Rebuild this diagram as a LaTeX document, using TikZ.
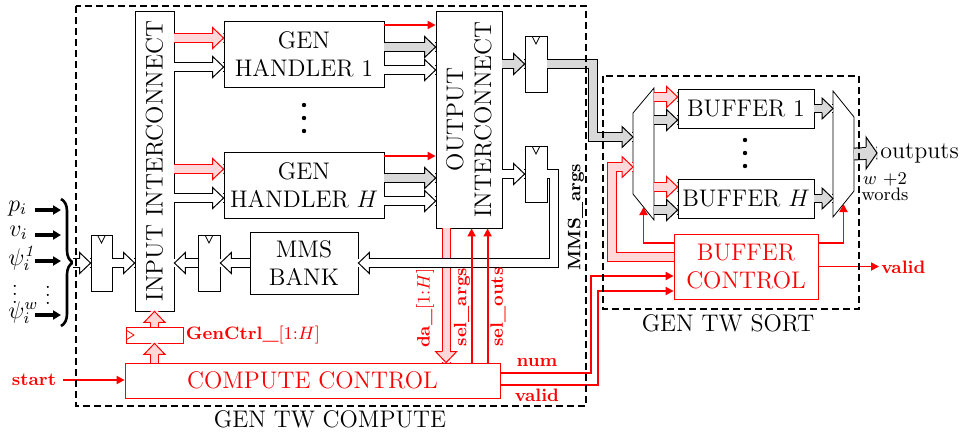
\documentclass[tikz,border=0pt]{standalone}
\usetikzlibrary{arrows.meta,decorations.pathreplacing}

\tikzset{
  blk/.style={draw, inner sep=0pt, align=center, font=\large},
  ctl/.style={blk, draw=red, text=red},
  regb/.style={draw, inner sep=0pt, minimum width=11pt, minimum height=28pt,
    path picture={\draw ([xshift=-2pt]path picture bounding box.north) -- ++(2pt,-4pt) -- ++(2pt,4pt);}},
  sig/.style={draw=red, line width=0.9pt, -{Triangle[length=4pt,width=4pt]}},
  inarr/.style={line width=2pt, -{Triangle[length=4pt,width=4.5pt]}},
  lbl/.style={font=\small\bfseries, text=red},
  grp/.style={dash pattern=on 3.5pt off 2pt, line width=0.6pt},
  busw/.style={draw=black, line width=0.5pt, double=white, double distance=3.6pt},
  busg/.style={busw, double=gray!30},
  busp/.style={busw, draw=red, double=red!15},
  bigbus/.style={busw, double=gray!30, double distance=5.4pt},
  hdw/.style={draw=black, fill=white, line width=0.5pt},
  hdg/.style={hdw, fill=gray!30},
  hdp/.style={hdw, draw=red, fill=red!15},
  pics/hd/.style={code={
    \fill[white] (-11,-4.8) rectangle (-0.8,4.8);
    \path[pic actions] (-11,-4.1) -- (-11,-10.5) -- (0,0) -- (-11,10.5) -- (-11,4.1);}},
  pics/bighd/.style={code={
    \fill[white] (-11,-6.6) rectangle (-0.8,6.6);
    \path[pic actions] (-11,-5.9) -- (-11,-16) -- (0,0) -- (-11,16) -- (-11,5.9);}},
}

\begin{document}
\begin{tikzpicture}[x=0.5pt, y=-0.5pt, line width=0.4pt]
\useasboundingbox (0,0) rectangle (963,435);

% compute blocks
\node[blk, minimum width=19.5pt, minimum height=150pt] (icin) at (154.5,161) {};
\node[rotate=90, font=\large] (icintxt) at (icin) {INPUT INTERCONNECT};
\node[blk, minimum width=80pt, minimum height=33pt] (gh1) at (304,54) {GEN\\HANDLER 1};
\node[blk, minimum width=80pt, minimum height=33pt] (ghH) at (304,185) {GEN\\HANDLER $H$};
\foreach \y in {105,118,131} \fill (304,\y) circle (1.1pt);
\node[blk, minimum width=33pt, minimum height=108.5pt] (icout) at (469,119.5) {};
\node[rotate=90, font=\large, align=center] (icouttxt) at (icout) {OUTPUT\\INTERCONNECT};
\node[regb] (rout1) at (536,64) {};
\node[regb] (rout2) at (536,174) {};
\node[blk, minimum width=54pt, minimum height=31pt] (mms) at (304,263) {MMS\\BANK};
\node[regb] (rmms) at (209,263) {};
\node[regb, minimum width=10.5pt] (rin) at (101.5,263) {};
\node[ctl, minimum width=187.5pt, minimum height=17.5pt] (cc) at (312.5,380.5) {COMPUTE CONTROL};
\node[draw=red, minimum width=28.5pt, minimum height=8pt, inner sep=0pt,
  path picture={\draw[red] ([yshift=2.5pt]path picture bounding box.west) -- ++(4pt,-2.5pt) -- ++(-4pt,-2.5pt);}] (gc) at (154.5,335) {};
\node[font=\small, text=red, anchor=west, inner sep=1pt] (gcl) at (gc.east) {\textbf{GenCtrl\_}[1:$H$]};

% sort blocks
\node[minimum width=10.5pt, minimum height=66pt, inner sep=0pt, outer sep=0pt] (dmx) at (643.5,154) {};
\draw (dmx.north east) -- (dmx.south east) -- ([yshift=13pt]dmx.south west) -- ([yshift=-12.5pt]dmx.north west) -- cycle;
\node[minimum width=10.5pt, minimum height=63pt, inner sep=0pt, outer sep=0pt] (mx) at (843.5,154) {};
\draw (mx.north west) -- ([yshift=-13pt]mx.north east) -- ([yshift=13pt]mx.south east) -- (mx.south west) -- cycle;
\node[blk, minimum width=68pt, minimum height=19.5pt] (buf1) at (746,108.5) {BUFFER 1};
\node[blk, minimum width=68pt, minimum height=19.5pt] (bufH) at (746,198.5) {BUFFER $H$};
\foreach \y in {140,153,166} \fill (745,\y) circle (1.1pt);
\node[ctl, minimum width=72pt, minimum height=32.5pt] (bc) at (746,266.5) {BUFFER\\CONTROL};

% inputs
\node[anchor=base west, font=\large, inner sep=0pt] (pi) at (8,211) {$p_i$};
\node[anchor=base west, font=\large, inner sep=0pt] (vi) at (9,236) {$v_i$};
\node[anchor=base west, font=\large, inner sep=0pt] (psi1) at (8,265) {$\psi_i^{\mathit{1}}$};
\node[anchor=base west, font=\large, inner sep=0pt] (psiw) at (8,318) {$\psi_i^{w}$};
\node[inner sep=0pt] (vd1) at (15,288) {$\vdots$};
\node[inner sep=0pt] (vd2) at (48,289) {$\vdots$};
\coordinate (brtop) at (61,199);
\coordinate (brbot) at (61,326);
\coordinate (brtip) at (73,263);
\foreach \n/\y in {pi/210,vi/235,psi1/261,psiw/315} {
  \coordinate (a-\n) at (35,\y);
  \draw[inarr] (a-\n) -- (a-\n -| brtop);
}
\draw[decorate, decoration={brace, amplitude=6pt}, line width=1.3pt] (brtop) -- (brbot);
\draw[busw] (brtip) -- (rin.west); \pic[hdw] at (rin.west) {hd};
\draw[busw] (rin.east) -- (rin.east -| icin.west); \pic[hdw] at (rin.east -| icin.west) {hd};
\draw[busw] (mms.west) -- (rmms.east); \pic[hdw, rotate=180] at (rmms.east) {hd};
\draw[busw] (rmms.west) -- (rmms.west -| icin.east); \pic[hdw, rotate=180] at (rmms.west -| icin.east) {hd};

% handlers
\foreach \g in {gh1,ghH} {
  \draw[busp] ([yshift=8pt]\g.west -| icin.east) -- ([yshift=8pt]\g.west);
  \pic[hdp] at ([yshift=8pt]\g.west) {hd};
  \draw[busw] ([yshift=-6.5pt]\g.west -| icin.east) -- ([yshift=-6.5pt]\g.west);
  \pic[hdw] at ([yshift=-6.5pt]\g.west) {hd};
  \draw[sig] ([yshift=14.5pt]\g.east) -- ([yshift=14.5pt]\g.east -| icout.west);
  \draw[busg] ([yshift=3.5pt]\g.east) -- ([yshift=3.5pt]\g.east -| icout.west);
  \pic[hdg] at ([yshift=3.5pt]\g.east -| icout.west) {hd};
  \draw[busw] ([yshift=-8pt]\g.east) -- ([yshift=-8pt]\g.east -| icout.west);
  \pic[hdw] at ([yshift=-8pt]\g.east -| icout.west) {hd};
}
\draw[busg] (rout1.west -| icout.east) -- (rout1.west); \pic[hdg] at (rout1.west) {hd};
\draw[busw] (rout2.west -| icout.east) -- (rout2.west); \pic[hdw] at (rout2.west) {hd};

% to the sorter
\coordinate (g1) at (593,137);
\draw[busg] (rout1.east) -| (g1) -- (g1 -| dmx.west); \pic[hdg] at (g1 -| dmx.west) {hd};
\coordinate (p1) at (612,167);
\draw[busp] ([yshift=4.75pt]bc.west) -| (p1) -- (p1 -| dmx.west); \pic[hdp] at (p1 -| dmx.west) {hd};
\foreach \b in {buf1,bufH} {
  \draw[busp] ([yshift=5.75pt]\b.west -| dmx.east) -- ([yshift=5.75pt]\b.west);
  \pic[hdp] at ([yshift=5.75pt]\b.west) {hd};
  \draw[busg] ([yshift=-5.75pt]\b.west -| dmx.east) -- ([yshift=-5.75pt]\b.west);
  \pic[hdg] at ([yshift=-5.75pt]\b.west) {hd};
  \draw[busg] (\b.east) -- (\b.east -| mx.west); \pic[hdg] at (\b.east -| mx.west) {hd};
}
\draw[sig] ([yshift=11.75pt]bc.west) -| ([yshift=6.5pt]dmx.south);
\draw[sig] ([yshift=11.75pt]bc.east) -| ([yshift=6.5pt]mx.south);
\node[font=\large, anchor=west, inner sep=1.5pt] (outp) at (877,153) {outputs};
\draw[bigbus] (mx.east) -- (outp.west); \pic[hdg] at (outp.west) {bighd};
\node[font=\small, align=center, inner sep=0pt] (wds) at (885,187) {$w$ +2\\[-3pt]words};
\node[lbl, anchor=west, inner sep=1pt] (vout) at (879,267) {valid};
\draw[sig] (bc.east) -- (bc.east -| vout.west);

% control
\node[lbl] (st) at (34,380) {start};
\draw[sig] (st.east) -- (st.east -| cc.west);
\draw[busp] (cc.north -| gc.south) -- (gc.south); \pic[hdp, rotate=90] at (gc.south) {hd};
\draw[busp] (gc.north) -- (gc.north |- icin.south); \pic[hdp, rotate=90] at (gc.north |- icin.south) {hd};
\coordinate (da) at ([xshift=5.25pt]icout.south west);
\coordinate (sa) at ([xshift=18pt]icout.south west);
\coordinate (so) at ([xshift=26pt]icout.south west);
\draw[busp] (da) -- (da |- cc.north); \pic[hdp, rotate=-90] at (da |- cc.north) {hd};
\coordinate (m1) at (554,220);
\draw[busw] (rout2.east) -| (m1) |- (mms.east); \pic[hdw, rotate=180] at (mms.east) {hd};
\draw[sig] (sa |- cc.north) -- (sa);
\draw[sig] (so |- cc.north) -- (so);
\node[rotate=90, font=\small, text=red] (lda) at (425,308) {\textbf{da\_}[1:$H$]};
\node[lbl, rotate=90] (lsa) at (462,307) {sel\_args};
\node[lbl, rotate=90] (lso) at (498,307) {sel\_outs};
\node[rotate=90, font=\small\bfseries] (lmms) at (576,217) {MMS\_args};
\coordinate (n1) at (591,320);
\coordinate (v1) at (598,320);
\draw[sig] ([yshift=3.75pt]cc.east) -| (n1) |- ([yshift=-4.75pt]bc.west);
\draw[sig] ([yshift=-2.25pt]cc.east) -| (v1) |- ([yshift=-12.25pt]bc.west);
\node[lbl] (lnum) at (537,362) {num};
\node[lbl] (lval) at (537,395) {valid};

% groups
\draw[grp] (76,6) rectangle (586,406);
\draw[grp] (603,76) rectangle (859,309);
\node[font=\large] (cap1) at (330,419) {GEN TW COMPUTE};
\node[font=\large] (cap2) at (728,323) {GEN TW SORT};
\end{tikzpicture}
\end{document}
